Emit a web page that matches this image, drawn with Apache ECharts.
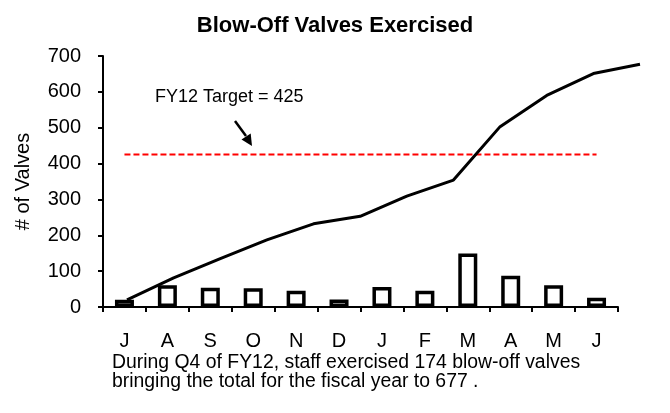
<!DOCTYPE html>
<html>
<head>
<meta charset="utf-8">
<title>Blow-Off Valves Exercised</title>
<script src="https://cdn.jsdelivr.net/npm/echarts@6/dist/echarts.min.js"></script>
<style>
  html, body { margin: 0; padding: 0; background: #fff; }
  #main { width: 670px; height: 413px; }
</style>
</head>
<body>
<div id="main"></div>
<script>
// 月份（财年从7月开始）
const months = ['J', 'A', 'S', 'O', 'N', 'D', 'J', 'F', 'M', 'A', 'M', 'J'];
// 每月检修数量
const monthly = [20, 61, 54, 52, 45, 21, 56, 45, 149, 87, 61, 26];
// 累计数量
const cumulative = [20, 81, 135, 187, 232, 253, 309, 354, 503, 590, 651, 677];
// 目标线
const target = [425, 425, 425, 425, 425, 425, 425, 425, 425, 425, 425, 425];
const yTicks = [0, 100, 200, 300, 400, 500, 600, 700];

const font = 'Liberation Sans, Arial, sans-serif';

let myChart = echarts.init(document.getElementById('main'), null, { renderer: 'canvas' });

let option = {
  backgroundColor: '#fff',
  animation: false,
  title: [
    {
      text: 'Blow-Off Valves Exercised',
      left: 'center',
      top: 10,
      textStyle: { fontFamily: font, fontSize: 22, fontWeight: 'bold', color: '#000' },
    },
  ],
  grid: [
    { left: 103, right: 52, top: 56, bottom: 106, outerBoundsMode: 'none' },
    // 累计曲线用的网格，位置与柱子错开
    { left: 127, right: 30, top: 56, bottom: 106, outerBoundsMode: 'none' },
  ],
  xAxis: [
    {
      type: 'category',
      gridIndex: 0,
      data: months,
      axisLine: { lineStyle: { color: '#000', width: 2 } },
      axisTick: { show: true, length: 5, lineStyle: { color: '#000', width: 2 } },
      axisLabel: { color: '#000', fontFamily: font, fontSize: 20, margin: 24 },
    },
    {
      type: 'category',
      gridIndex: 1,
      data: months,
      boundaryGap: false,
      show: false,
    },
  ],
  yAxis: [
    {
      type: 'value',
      gridIndex: 0,
      min: yTicks[0],
      max: yTicks[yTicks.length - 1],
      interval: 100,
      name: '# of Valves',
      nameLocation: 'middle',
      nameGap: 70,
      nameTextStyle: { color: '#000', fontFamily: font, fontSize: 20 },
      axisLine: { show: true, lineStyle: { color: '#000', width: 2 } },
      axisTick: { show: true, length: 5, lineStyle: { color: '#000', width: 2 } },
      axisLabel: { color: '#000', fontFamily: font, fontSize: 20, margin: 22 },
      splitLine: { show: false },
    },
    {
      type: 'value',
      gridIndex: 1,
      min: yTicks[0],
      max: yTicks[yTicks.length - 1],
      show: false,
      splitLine: { show: false },
    },
  ],
  graphic: [
    {
      type: 'text',
      left: 155,
      top: 88,
      style: { text: 'FY12 Target = 425', font: '18px ' + font, fill: '#000' },
    },
    {
      type: 'line',
      shape: { x1: 235, y1: 121, x2: 246, y2: 136 },
      style: { stroke: '#000', lineWidth: 2.5 },
    },
    {
      type: 'polygon',
      shape: { points: [[252, 146], [241.5, 139.5], [250.7, 133.4]] },
      style: { fill: '#000' },
    },
    {
      type: 'text',
      left: 112,
      top: 353,
      style: {
        text: 'During Q4 of FY12, staff exercised 174 blow-off valves\nbringing the total for the fiscal year to 677 .',
        font: '19.4px ' + font,
        lineHeight: 19,
        fill: '#000',
      },
    },
  ],
  series: [
    {
      name: 'Monthly',
      type: 'bar',
      xAxisIndex: 0,
      yAxisIndex: 0,
      barWidth: 19,
      itemStyle: { color: '#fff', borderColor: '#000', borderWidth: 3.5 },
      data: monthly,
    },
    {
      name: 'Target',
      type: 'line',
      xAxisIndex: 0,
      yAxisIndex: 0,
      symbol: 'none',
      lineStyle: { color: '#ff0000', width: 2, type: [6, 3] },
      data: target,
    },
    {
      name: 'Cumulative',
      type: 'line',
      xAxisIndex: 1,
      yAxisIndex: 1,
      symbol: 'none',
      lineStyle: { color: '#000', width: 3 },
      data: cumulative,
    },
  ],
};

option && myChart.setOption(option);
</script>
</body>
</html>
